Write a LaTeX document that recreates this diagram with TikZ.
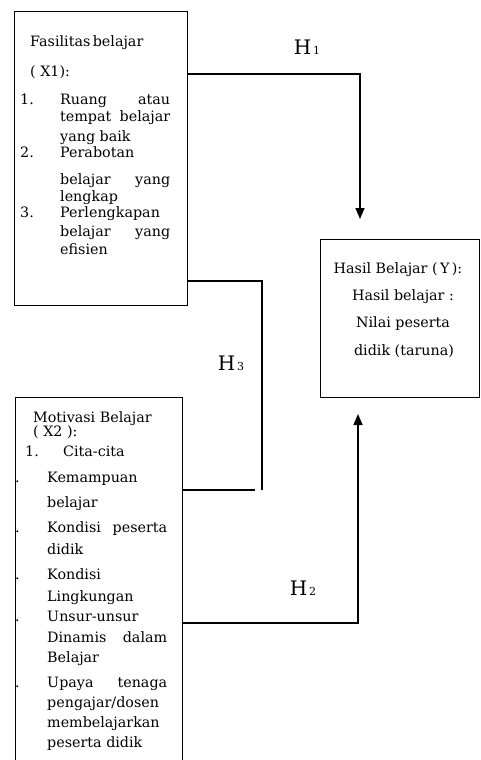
\documentclass[tikz,border=0pt]{standalone}
\usepackage{fontspec}
\setmainfont{DejaVu Serif}
\usetikzlibrary{arrows.meta}
\begin{document}
\begin{tikzpicture}[x=1pt,y=-1pt,
  box/.style={draw=black,line width=1.1pt,inner sep=0pt,anchor=north west},
  txt/.style={anchor=base west,inner sep=0pt,font=\fontsize{14.3}{16}\selectfont},
  ctxt/.style={anchor=base,inner sep=0pt,font=\fontsize{14.3}{16}\selectfont},
  conn/.style={draw=black,line width=1.6pt},
  arr/.style={conn,-{Triangle[width=9pt,length=11pt]}},
  hlab/.style={inner sep=0pt}]
\useasboundingbox (0,0) rectangle (481,760);
\clip (0,0) rectangle (481,760);
% boxes
\node[box,minimum width=173pt,minimum height=294pt] (x1) at (14,11) {};
\node[box,minimum width=167pt,minimum height=380pt] (x2) at (15,397) {};
\node[box,minimum width=159pt,minimum height=158pt] (y) at (320,239) {};
% X1 text
\node[txt] (t1) at (30,47) {Fasilitas\hspace{2.5pt}belajar};
\node[txt] (t2) at (30,77) {( X1):};
\node[txt] (n1) at (20,104) {1.};
\node[txt] (t3) at (60,104) {\hbox to 110pt{Ruang\hfill atau}};
\node[txt] (t4) at (60,121) {\hbox to 110pt{tempat\hfill belajar}};
\node[txt] (t5) at (60,141) {yang baik};
\node[txt] (n2) at (20,157) {2.};
\node[txt] (t6) at (60,157) {Perabotan};
\node[txt] (t7) at (60,184) {\hbox to 110pt{belajar\hfill yang}};
\node[txt] (t8) at (60,201) {lengkap};
\node[txt] (n3) at (20,217) {3.};
\node[txt] (t9) at (60,217) {Perlengkapan};
\node[txt] (t10) at (60,236) {\hbox to 110pt{belajar\hfill yang}};
\node[txt] (t11) at (60,254) {efisien};
% X2 text
\node[txt] (m1) at (33,422) {Motivasi Belajar};
\node[txt] (m2) at (33,436) {( X2 ):};
\node[txt] (mn1) at (25,456) {1.};
\node[txt] (m3) at (63,456) {Cita-cita};
\node[txt] (mn2) at (15,482) {.};
\node[txt] (m4) at (47,482) {Kemampuan};
\node[txt] (m5) at (47,507) {belajar};
\node[txt] (mn3) at (15,532) {.};
\node[txt] (m6) at (47,532) {\hbox to 120pt{Kondisi\hfil peserta}};
\node[txt] (m7) at (47,554) {didik};
\node[txt] (mn4) at (15,579) {.};
\node[txt] (m8) at (47,579) {Kondisi};
\node[txt] (m9) at (47,601) {Lingkungan};
\node[txt] (mn5) at (15,621) {.};
\node[txt] (m10) at (47,621) {Unsur-unsur};
\node[txt] (m11) at (47,642) {\hbox to 120pt{Dinamis\hfill dalam}};
\node[txt] (m12) at (47,662) {Belajar};
\node[txt] (mn6) at (15,687) {.};
\node[txt] (m13) at (47,687) {\hbox to 120pt{Upaya\hfill tenaga}};
\node[txt] (m14) at (47,707) {pengajar/dosen};
\node[txt] (m15) at (47,727) {membelajarkan};
\node[txt] (m16) at (47,747) {peserta didik};
% Y text
\node[ctxt] (y1) at (398,273) {Hasil Belajar (\,Y\,):};
\node[ctxt] (y2) at (403,300) {Hasil belajar~:};
\node[ctxt] (y3) at (403,327) {Nilai peserta};
\node[ctxt] (y4) at (404,355) {didik (taruna)};
% labels
\node[hlab] (h1) at (307,47) {{\fontsize{20}{20}\selectfont H}\hspace{2pt}{\fontsize{11}{11}\selectfont 1}};
\node[hlab] (h3) at (231,363) {{\fontsize{20}{20}\selectfont H}\hspace{2pt}{\fontsize{11}{11}\selectfont 3}};
\node[hlab] (h2) at (303,588) {{\fontsize{20}{20}\selectfont H}\hspace{2pt}{\fontsize{11}{11}\selectfont 2}};
% connector endpoints
\coordinate (h1end) at (360,219);
\coordinate (h3turn) at (262,281);
\coordinate (h3end) at (262,490);
\coordinate (h3stub) at (255,490);
\coordinate (h2turn) at (358,623);
\coordinate (h2end) at (358,414);
% connectors
\draw[arr] (x1.east |- 0,74) -| (h1end);
\draw[conn] (x1.east |- h3turn) -- (h3turn) -- (h3end);
\draw[conn] (x2.east |- h3stub) -- (h3stub);
\draw[arr] (x2.east |- h2turn) -- (h2turn) -- (h2end);
\end{tikzpicture}
\end{document}
